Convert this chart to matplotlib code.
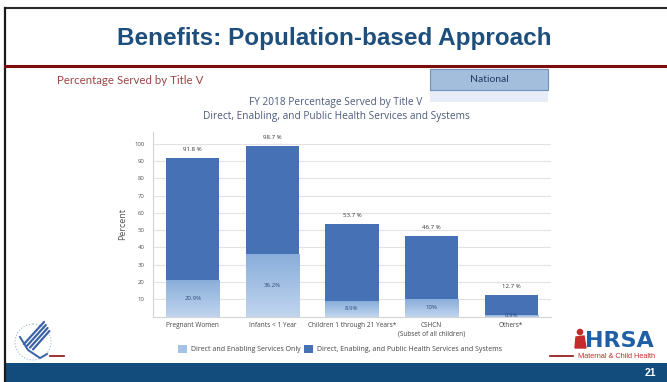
import matplotlib
matplotlib.use('Agg')
import matplotlib.pyplot as plt
from matplotlib.patches import Rectangle, Circle, Polygon
from matplotlib.colors import LinearSegmentedColormap
import numpy as np

W, H = 667, 382

groups = ['Pregnant Women', 'Infants < 1 Year', 'Children 1 through 21 Years*',
          'CSHCN\n(Subset of all children)', 'Others*']
total = [91.8, 98.7, 53.7, 46.7, 12.7]
direct_only = [20.9, 36.2, 8.9, 10, 0.9]
direct_labels = ['20.9%', '36.2%', '8.9%', '10%', '0.9%']
yticks = [10, 20, 30, 40, 50, 60, 70, 80, 90, 100]
series_names = ['Direct and Enabling Services Only',
                'Direct, Enabling, and Public Health Services and Systems']

DARK = '#4672b5'
LIGHT = '#a4c1e6'
grad_cmap = LinearSegmentedColormap.from_list('lightbar', ['#c0d5ee', '#8aaedb'])

fig = plt.figure(figsize=(W / 100, H / 100), dpi=100)

# ---- slide chrome, drawn in pixel coords on a full-figure overlay ----
bg = fig.add_axes([0, 0, 1, 1])
bg.set_xlim(0, W)
bg.set_ylim(H, 0)
bg.axis('off')

bg.plot([5, W], [8, 8], color='#2a2a2a', lw=1.5)
bg.plot([5, 5], [8, H], color='#1a1a1a', lw=1.6)
bg.plot([5, W], [66, 66], color='#7b0d0d', lw=2.2)
bg.text(334, 38, 'Benefits: Population-based Approach', ha='center', va='center',
        fontsize=17.5, fontweight='bold', color='#1d4e7c', family='Liberation Sans')
bg.text(57, 80, 'Percentage Served by Title V', ha='left', va='center',
        fontsize=8.3, color='#9c4646', family='Lato')

bg.add_patch(Rectangle((430, 90), 118, 12, facecolor='#e6edf6', edgecolor='none'))
bg.add_patch(Rectangle((430, 69), 118, 21, facecolor='#a3bedd', edgecolor='#6f90b8', lw=0.8))
bg.text(489, 79.5, 'National', ha='center', va='center', fontsize=7.5,
        color='#1f3b63', family='Lato')

# footer
bg.add_patch(Rectangle((5, 362.5), W - 5, H - 362.5, facecolor='#124c7c', edgecolor='none'))
bg.text(650, 372.5, '21', ha='center', va='center', fontsize=7.5,
        fontweight='bold', color='white', family='Liberation Sans')

# HHS logo (rough)
bg.add_patch(Circle((33, 342), 18, fill=False, edgecolor='#9fb3cf', lw=0.8, ls=':'))
for dx in (0, 3, 6, 9):
    bg.plot([24 + dx, 44 + dx * 0.6], [344 + dx * 0.6, 322 + dx], color='#3b63a8', lw=1.6,
            solid_capstyle='round')
bg.plot([20, 28, 40, 47], [337, 350, 358, 354], color='#3b63a8', lw=1.4)
bg.plot([50, 64], [355.7, 355.7], color='#8b1111', lw=1.2)

# HRSA logo (rough)
bg.plot([550, 573], [355.7, 355.7], color='#8b1111', lw=1.2)
bg.add_patch(Circle((580, 332), 2.6, color='#c62b2b'))
bg.add_patch(Polygon([[575, 348], [576, 337], [584, 336], [586, 348]], color='#c62b2b'))
bg.text(585, 341, 'HRSA', ha='left', va='center', fontsize=16, fontweight='bold',
        color='#1f5fa6', family='DejaVu Sans')
bg.text(617, 357, 'Maternal & Child Health', ha='center', va='center', fontsize=5.3,
        color='#c0302b', family='Liberation Sans')

# chart titles
fig.text(336 / W, 1 - 103 / H, 'FY 2018 Percentage Served by Title V', ha='center',
         va='center', fontsize=7.3, color='#4d5b7c', family='Open Sans')
fig.text(336 / W, 1 - 117 / H, 'Direct, Enabling, and Public Health Services and Systems',
         ha='center', va='center', fontsize=7.3, color='#4d5b7c', family='Open Sans')

# ---- chart ----
ax = fig.add_axes([153 / W, 1 - 316.6 / H, (551 - 153) / W, (316.6 - 131.5) / H])
x = np.arange(len(groups))
light = ax.bar(x, direct_only, width=0.667, color=LIGHT, zorder=3)
dark = ax.bar(x, np.subtract(total, direct_only), bottom=direct_only, width=0.667,
              color=DARK, zorder=3)

grad = np.linspace(0, 1, 64).reshape(-1, 1)
for b in light:
    ax.imshow(grad, extent=(b.get_x(), b.get_x() + b.get_width(), 0, b.get_height()),
              cmap=grad_cmap, aspect='auto', origin='lower', zorder=3.5)

for i, t in enumerate(total):
    ax.text(i, t + 4.8, f'{t} %', ha='center', va='center', fontsize=4.4,
            color='#333333', family='Open Sans')
for i, (d, lbl) in enumerate(zip(direct_only, direct_labels)):
    ax.text(i, d / 2, lbl, ha='center', va='center', fontsize=4.4,
            color='#2d4a7a', family='Open Sans', zorder=5)

ax.set_xlim(-0.5, len(groups) - 0.5)
ax.set_ylim(0, 107)
ax.set_yticks(yticks)
ax.set_xticks(x, groups)
ax.tick_params(axis='y', length=0, pad=6, labelsize=4.3, labelcolor='#555555')
ax.tick_params(axis='x', length=0, pad=4, labelsize=4.7, labelcolor='#444444')
for lab in ax.get_xticklabels() + ax.get_yticklabels():
    lab.set_family('Open Sans')
ax.set_ylabel('Percent', fontsize=6.5, color='#555555', family='Open Sans', labelpad=5)
ax.yaxis.grid(True, color='#e2e2e2', lw=0.8)
ax.set_axisbelow(True)
for s in ('top', 'right'):
    ax.spines[s].set_visible(False)
ax.spines['left'].set_color('#d4d4d4')
ax.spines['bottom'].set_color('#d4d4d4')

fig.legend(handles=[light, dark], labels=series_names, loc='center',
           bbox_to_anchor=(340 / W, 1 - 349 / H), ncol=2, frameon=False,
           prop={'family': 'Open Sans', 'size': 5.0}, labelcolor='#444444',
           handlelength=1.3, handleheight=1.3, columnspacing=0.6, handletextpad=0.5)

fig.savefig('out.png', dpi=100)
